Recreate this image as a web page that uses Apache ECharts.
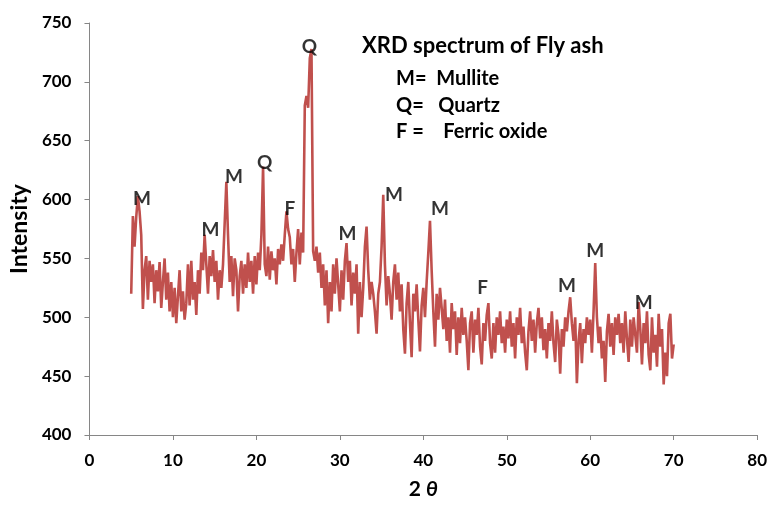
<!DOCTYPE html>
<html>
<head>
<meta charset="utf-8">
<script src="https://cdn.jsdelivr.net/npm/echarts@6/dist/echarts.min.js"></script>
<style>
html,body{margin:0;padding:0;background:#fff;}
#chart{width:770px;height:505px;}
</style>
</head>
<body>
<div id="chart"></div>
<script>
// Scan definition (2θ start and step of the diffractometer scan)
const scanStart = 5.0;
const scanStep = 0.2;

// Intensity readings, 5 degrees per block
const int05 = [520,586,560,585,603,590,570,507,540,552,515,548,530,545,512,540,522,547,508,530,550,515,538,505,530];
const int10 = [500,525,495,518,540,505,522,498,512,545,510,548,515,530,502,540,520,555,540,570,545,520,552,535,557];
const int15 = [530,548,515,540,525,545,580,615,570,530,552,518,550,540,505,535,548,520,545,525,555,530,548,520,552];
const int20 = [528,555,540,570,628,545,535,560,532,556,540,550,528,558,545,562,548,570,590,575,568,545,558,530,555];
const int25 = [575,545,572,555,680,688,678,720,728,556,548,560,538,555,525,545,510,540,495,530,505,545,520,550,528];
const int30 = [505,540,515,548,563,530,548,510,538,520,545,486,530,500,525,560,577,540,515,530,520,505,486,520,530];
const int35 = [560,604,545,510,535,520,498,530,545,515,538,505,528,490,469,512,530,495,466,520,505,528,498,471,510];
const int40 = [525,500,530,555,582,540,505,475,520,498,525,508,490,515,480,500,470,512,490,505,468,500,478,508,485];
const int45 = [500,480,455,495,505,470,498,485,508,475,460,495,480,502,512,478,465,495,470,500,485,505,478,492,470];
const int50 = [498,482,505,475,495,465,500,485,508,478,492,470,455,488,505,480,498,470,495,508,482,500,472,490,465];
const int55 = [495,480,505,478,462,498,485,452,490,475,500,488,505,517,495,480,500,444,480,495,461,490,478,500,485];
const int60 = [498,470,505,546,500,478,492,465,480,445,488,503,475,495,468,500,485,503,478,495,470,505,482,462,498];
const int65 = [475,500,485,470,513,490,460,495,478,505,468,455,500,470,485,458,503,475,490,443,470,450,495,503,465,477];

// Peak annotations (2θ, intensity, phase letter)
const peakX = [6.3, 14.5, 17.3, 21.0, 24.0, 26.35, 30.9, 36.5, 42.0, 47.1, 57.2, 60.6, 66.4];
const peakY = [601, 574, 619, 631, 592, 730, 571, 604, 592, 525, 527, 556, 512];
const peakTag = ['M','M','M','Q','F','Q','M','M','M','F','M','M','M'];

// Axis ticks
const xTicks = [0,10,20,30,40,50,60,70,80];
const yTicks = [400,450,500,550,600,650,700,750];

const intensity = [].concat(int05,int10,int15,int20,int25,int30,int35,int40,int45,int50,int55,int60,int65);
const seriesData = intensity.map((v,i) => [+(scanStart + i*scanStep).toFixed(2), v]);
const peakData = peakX.map((x,i) => [x, peakY[i], peakTag[i]]);

const FONT = 'Lato, "Open Sans", sans-serif';
const chart = echarts.init(document.getElementById('chart'), null, {renderer:'canvas'});
chart.setOption({
  animation:false,
  backgroundColor:'#ffffff',
  grid:{left:88, right:10, top:23, bottom:64, containLabel:false},
  xAxis:{
    type:'value', min:xTicks[0], max:xTicks[xTicks.length-1], interval:10,
    name:'{a|2 }{b|θ}', nameLocation:'middle', nameGap:44,
    nameTextStyle:{rich:{
      a:{fontFamily:FONT, fontWeight:'bold', fontSize:21, color:'#000'},
      b:{fontFamily:FONT, fontWeight:'bold', fontStyle:'italic', fontSize:21, color:'#000'}
    }},
    axisLine:{show:true, onZero:false, lineStyle:{color:'#868686', width:1}},
    axisTick:{show:true, length:5, inside:false, lineStyle:{color:'#868686'}},
    axisLabel:{fontFamily:FONT, fontWeight:'bold', fontSize:17, color:'#000', margin:17},
    splitLine:{show:false}
  },
  yAxis:{
    type:'value', min:yTicks[0], max:yTicks[yTicks.length-1], interval:50,
    name:'Intensity', nameLocation:'middle', nameGap:53, nameRotate:90,
    nameTextStyle:{fontFamily:FONT, fontWeight:'bold', fontSize:23, color:'#000'},
    axisLine:{show:true, lineStyle:{color:'#868686', width:1}},
    axisTick:{show:true, length:5, inside:false, lineStyle:{color:'#868686'}},
    axisLabel:{fontFamily:FONT, fontWeight:'bold', fontSize:17, color:'#000', margin:18},
    splitLine:{show:false}
  },
  series:[
    {
      type:'line', data:seriesData, showSymbol:false, symbol:'none',
      lineStyle:{color:'#C0504D', width:2.6}, z:2
    },
    {
      type:'scatter', data:peakData, symbolSize:0, z:3, silent:true,
      label:{show:true, position:'inside', formatter:p => p.data[2],
        fontFamily:FONT, fontWeight:'bold', fontSize:19, color:'#000'}
    }
  ],
  graphic:[
    {type:'text', left:362, top:35, style:{text:'XRD spectrum of Fly ash', font:'bold 22px '+FONT, fill:'#000'}},
    {type:'text', left:396, top:69, style:{text:'M=  Mullite', font:'bold 20px '+FONT, fill:'#000'}},
    {type:'text', left:396, top:96, style:{text:'Q=   Quartz', font:'bold 20px '+FONT, fill:'#000'}},
    {type:'text', left:396, top:122, style:{text:'F =    Ferric oxide', font:'bold 20px '+FONT, fill:'#000'}}
  ]
});
</script>
</body>
</html>
